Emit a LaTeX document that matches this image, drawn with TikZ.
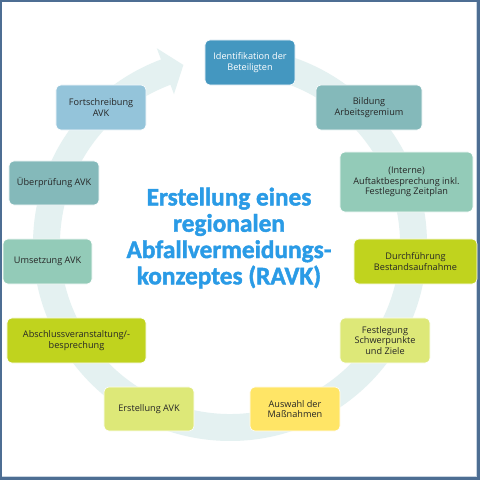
\documentclass[tikz,border=0pt]{standalone}
\usepackage{fontspec}
\setmainfont{Open Sans}
\newfontfamily\titlefont{Carlito}[BoldFeatures={FakeBold=1.6}]
\definecolor{frame}{HTML}{4D6E93}
\definecolor{frameedge}{HTML}{C9D5E1}
\definecolor{ringfill}{HTML}{E4F1F1}
\definecolor{ink}{HTML}{262626}
\definecolor{titleblue}{HTML}{2A9BE6}
\definecolor{stepblue}{HTML}{4497C0}
\definecolor{steplight}{HTML}{94C4DA}
\definecolor{stepteal}{HTML}{84B9BA}
\definecolor{stepmint}{HTML}{93CBB8}
\definecolor{steplime}{HTML}{C0D31E}
\definecolor{steppale}{HTML}{DDE878}
\definecolor{stepyellow}{HTML}{FFE566}

\begin{document}
\begin{tikzpicture}[x=.025cm, y=.025cm, font=\fontsize{6.5}{7.6}\selectfont, text=ink,
  stage/.style={draw=white, line width=.4pt, rounded corners=3.5pt, align=center,
    inner sep=2pt, minimum height=1.125cm}]
  \useasboundingbox (0,0) rectangle (480,480);
  \fill[frame] (0,0) rectangle (480,480);
  \fill[frameedge] (2,3) rectangle (477,478);
  \fill[white] (2,4) rectangle (476,478);

  \coordinate (mitte) at (230,236);
  \fill[ringfill] ([shift={(85:197)}]mitte) arc[start angle=85, end angle=-249.5, radius=197]
    -- ([shift={(-249.5:209)}]mitte) -- ([shift={(-255.4:185)}]mitte)
    -- ([shift={(-249.5:160)}]mitte) -- ([shift={(-249.5:170)}]mitte)
    arc[start angle=-249.5, end angle=85, radius=170] -- cycle;

  \node[stage, fill=stepblue, text=white, minimum width=2.25cm] (ident) at (250,417.5) {Identifikation der\\Beteiligten};
  \node[stage, fill=stepteal, minimum width=2.65cm] (bildung) at (369,372.5) {Bildung\\Arbeitsgremium};
  \node[stage, fill=stepmint, minimum width=3.325cm, minimum height=1.5cm] (auftakt) at (406.5,298) {(Interne)\\Auftaktbesprechung inkl.\\Festlegung Zeitplan};
  \node[stage, fill=steplime, minimum width=3.075cm] (bestand) at (415.5,218.5) {Durchführung\\Bestandsaufnahme};
  \node[stage, fill=steppale, minimum width=2.25cm] (ziele) at (385,139.5) {Festlegung\\Schwerpunkte\\und Ziele};
  \node[stage, fill=stepyellow, minimum width=2.25cm, minimum height=1.1cm] (massn) at (295,71) {Auswahl der\\Maßnahmen};
  \node[stage, fill=steppale, minimum width=2.25cm, minimum height=1.1cm] (erstellung) at (149,71) {Erstellung AVK};
  \node[stage, fill=steplime, minimum width=3.475cm] (abschluss) at (76.5,139.5) {Abschlussveranstaltung/-\\besprechung};
  \node[stage, fill=stepmint, minimum width=2.225cm] (umsetzung) at (47.5,218.5) {Umsetzung AVK};
  \node[stage, fill=stepteal, minimum width=2.25cm, minimum height=1.1cm] (pruefung) at (54,297) {Überprüfung AVK};
  \node[stage, fill=steplight, minimum width=2.25cm] (fortschr) at (101,372.5) {Fortschreibung\\AVK};

  \node[font=\titlefont\bfseries\fontsize{18}{18.7}\selectfont, text=titleblue, align=center] (title) at (229,242)
    {Erstellung eines\\regionalen\\Abfallvermeidungs-\\konzeptes (RAVK)};
\end{tikzpicture}
\end{document}
